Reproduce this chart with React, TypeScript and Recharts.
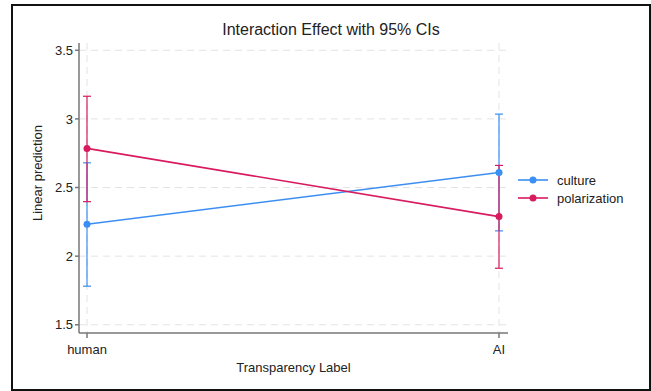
import { LineChart, Line, XAxis, YAxis, CartesianGrid, ErrorBar } from 'recharts';

const categories = ['human', 'AI'];
const culture = [2.232, 2.61];
const cultureLo = [1.781, 2.184];
const cultureHi = [2.68, 3.035];
const polarization = [2.785, 2.288];
const polarizationLo = [2.397, 1.912];
const polarizationHi = [3.165, 2.661];
const yTicks = [1.5, 2, 2.5, 3, 3.5];

const BLUE = '#3b8ff3';
const RED = '#d81b5e';
const FONT = 'Arial, "Liberation Sans", sans-serif';

const series = [
  { key: 'culture', name: 'culture', color: BLUE },
  { key: 'polarization', name: 'polarization', color: RED },
];

// build rows, error as [below, above] distances from the mean
const data = categories.map((c, i) => ({
  label: c,
  culture: culture[i],
  cultureErr: [culture[i] - cultureLo[i], cultureHi[i] - culture[i]],
  polarization: polarization[i],
  polarizationErr: [polarization[i] - polarizationLo[i], polarizationHi[i] - polarization[i]],
}));

const YLabel = (props: any) => {
  const vb = props.viewBox || {};
  const x = 37;
  const y = vb.y + vb.height / 2 - 15;
  return (
    <text x={x} y={y} transform={`rotate(-90, ${x}, ${y})`} textAnchor="middle" dominantBaseline="central" fill="#222" fontSize={13} fontFamily={FONT}>
      Linear prediction
    </text>
  );
};

export default function App() {
  return (
    <div style={{ position: 'absolute', left: 0, top: 0, width: 651, height: 391, background: '#fff', fontFamily: FONT }}>
      <div
        style={{
          position: 'absolute',
          left: 11,
          top: 4,
          width: 636,
          height: 383,
          border: '2px solid #111',
        }}
      />
      <div
        style={{
          position: 'absolute',
          left: 0,
          width: 662,
          top: 21,
          textAlign: 'center',
          fontSize: 16,
          color: '#222',
        }}
      >
        Interaction Effect with 95% CIs
      </div>

      <LineChart
        width={651}
        height={391}
        data={data}
        margin={{ top: 43, right: 143, bottom: 0, left: 0 }}
        style={{ position: 'absolute', left: 0, top: 0 }}
      >
        <CartesianGrid stroke="#e3e3e3" strokeDasharray="7 5" syncWithTicks horizontalValues={yTicks} />
        <XAxis
          dataKey="label"
          type="category"
          padding={{ left: 8, right: 9 }}
          height={58}
          stroke="#777"
          strokeWidth={1.5}
          tickSize={5}
          tick={{ fill: '#222', fontSize: 13, fontFamily: FONT }}
          tickMargin={7}
          label={{ value: 'Transparency Label', position: 'insideBottom', offset: 19, fill: '#222', fontSize: 13, fontFamily: FONT }}
        />
        <YAxis
          domain={[1.44, 3.553]}
          ticks={yTicks}
          allowDataOverflow
          width={79}
          stroke="#777"
          strokeWidth={1.5}
          tickSize={4}
          tickMargin={2}
          tick={{ fill: '#222', fontSize: 13, fontFamily: FONT }}
          label={{ content: YLabel }}
        />
        <Line
          dataKey="culture"
          stroke={BLUE}
          strokeWidth={1.6}
          dot={{ r: 3.5, fill: BLUE, stroke: BLUE, strokeWidth: 0 }}
          isAnimationActive={false}
        >
          <ErrorBar dataKey="cultureErr" stroke={BLUE} strokeWidth={1.2} width={4} isAnimationActive={false} />
        </Line>
        <Line
          dataKey="polarization"
          stroke={RED}
          strokeWidth={1.6}
          dot={{ r: 3.5, fill: RED, stroke: RED, strokeWidth: 0 }}
          isAnimationActive={false}
        >
          <ErrorBar dataKey="polarizationErr" stroke={RED} strokeWidth={1.2} width={4} isAnimationActive={false} />
        </Line>
      </LineChart>

      <div style={{ position: 'absolute', left: 518, top: 171, fontSize: 13, color: '#222' }}>
        {series.map((s) => (
          <div key={s.key} style={{ display: 'flex', alignItems: 'center', height: 18 }}>
            <svg width={30} height={10} style={{ marginRight: 9 }}>
              <line x1={0} y1={5} x2={30} y2={5} stroke={s.color} strokeWidth={1.6} />
              <circle cx={15} cy={5} r={3.5} fill={s.color} />
            </svg>
            <span>{s.name}</span>
          </div>
        ))}
      </div>
    </div>
  );
}
